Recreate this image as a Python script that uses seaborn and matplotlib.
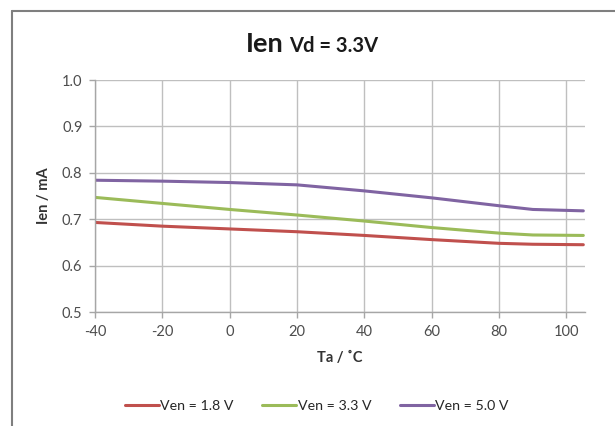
import numpy as np
import pandas as pd
import matplotlib
matplotlib.use("Agg")
import matplotlib.pyplot as plt
import seaborn as sns
from matplotlib.lines import Line2D

# data
temps = [-40, -20, 0, 20, 40, 60, 80, 90, 105]
ien_18 = [0.693, 0.685, 0.679, 0.673, 0.665, 0.656, 0.648, 0.646, 0.645]
ien_33 = [0.747, 0.734, 0.721, 0.709, 0.696, 0.682, 0.670, 0.666, 0.665]
ien_50 = [0.784, 0.782, 0.779, 0.774, 0.761, 0.746, 0.729, 0.721, 0.718]
series_names = ["Ven = 1.8 V", "Ven = 3.3 V", "Ven = 5.0 V"]
colors = ["#C0504D", "#9BBB59", "#8064A2"]
xticks = [-40, -20, 0, 20, 40, 60, 80, 100]
yticks = [0.5, 0.6, 0.7, 0.8, 0.9, 1.0]

dt = pd.DataFrame({
    "Ta": temps * 3,
    "Ien": ien_18 + ien_33 + ien_50,
    "series": [series_names[0]] * len(temps) + [series_names[1]] * len(temps) + [series_names[2]] * len(temps),
})

sns.set_style("white")
plt.rcParams["font.family"] = ["Lato", "DejaVu Sans"]

fig = plt.figure(figsize=(6.15, 4.26), dpi=100)
ax = fig.add_axes([95 / 615, 1 - 312 / 426, 490 / 615, 232 / 426])

sns.lineplot(data=dt, x="Ta", y="Ien", hue="series", palette=colors, linewidth=2.2,
             ax=ax, legend=False, sort=True)

ax.set_xlim(-40, 105.5)
ax.set_ylim(0.5, 1.0)
ax.set_xticks(xticks)
ax.set_yticks(yticks)
ax.set_xticklabels([str(t) for t in xticks], fontsize=10.5, color="#4D4D4D")
ax.set_yticklabels([f"{t:.1f}" for t in yticks], fontsize=10.5, color="#4D4D4D")
ax.grid(True, color="#BFBFBF", linewidth=1)
ax.set_axisbelow(True)
for side in ["top", "right"]:
    ax.spines[side].set_visible(False)
for side in ["left", "bottom"]:
    ax.spines[side].set_color("#A6A6A6")
    ax.spines[side].set_linewidth(1)
ax.tick_params(axis="both", direction="out", length=4, width=1, color="#A6A6A6", pad=5,
               bottom=True, left=True)
ax.set_xlabel("Ta / ˚C", fontsize=10.5, fontweight="bold", color="#333333", labelpad=9)
ax.set_ylabel("Ien / mA", fontsize=10.5, fontweight="bold", color="#333333", labelpad=8)

# title in two sizes
fig.text(284 / 615, 1 - 44 / 426, "Ien", fontsize=19.5, fontweight="bold", ha="right", va="center", color="#1a1a1a")
fig.text(289 / 615, 1 - 46 / 426, "Vd = 3.3V", fontsize=14.5, fontweight="bold", ha="left", va="center", color="#1a1a1a")

# legend below
handles = [Line2D([0], [0], color=c, lw=2.2) for c in colors]
fig.legend(handles, series_names, loc="center", bbox_to_anchor=(0.515, 1 - 406 / 426), ncol=3,
           frameon=False, fontsize=10.2, handlelength=2.4, handletextpad=0.1, columnspacing=2.0)

# outer chart border (left and top visible)
fig.add_artist(Line2D([12 / 615, 12 / 615], [0, 1 - 11 / 426], color="#7F7F7F", lw=1.5))
fig.add_artist(Line2D([12 / 615, 1], [1 - 11 / 426, 1 - 11 / 426], color="#7F7F7F", lw=1.5))

fig.savefig("out.png", dpi=100)
